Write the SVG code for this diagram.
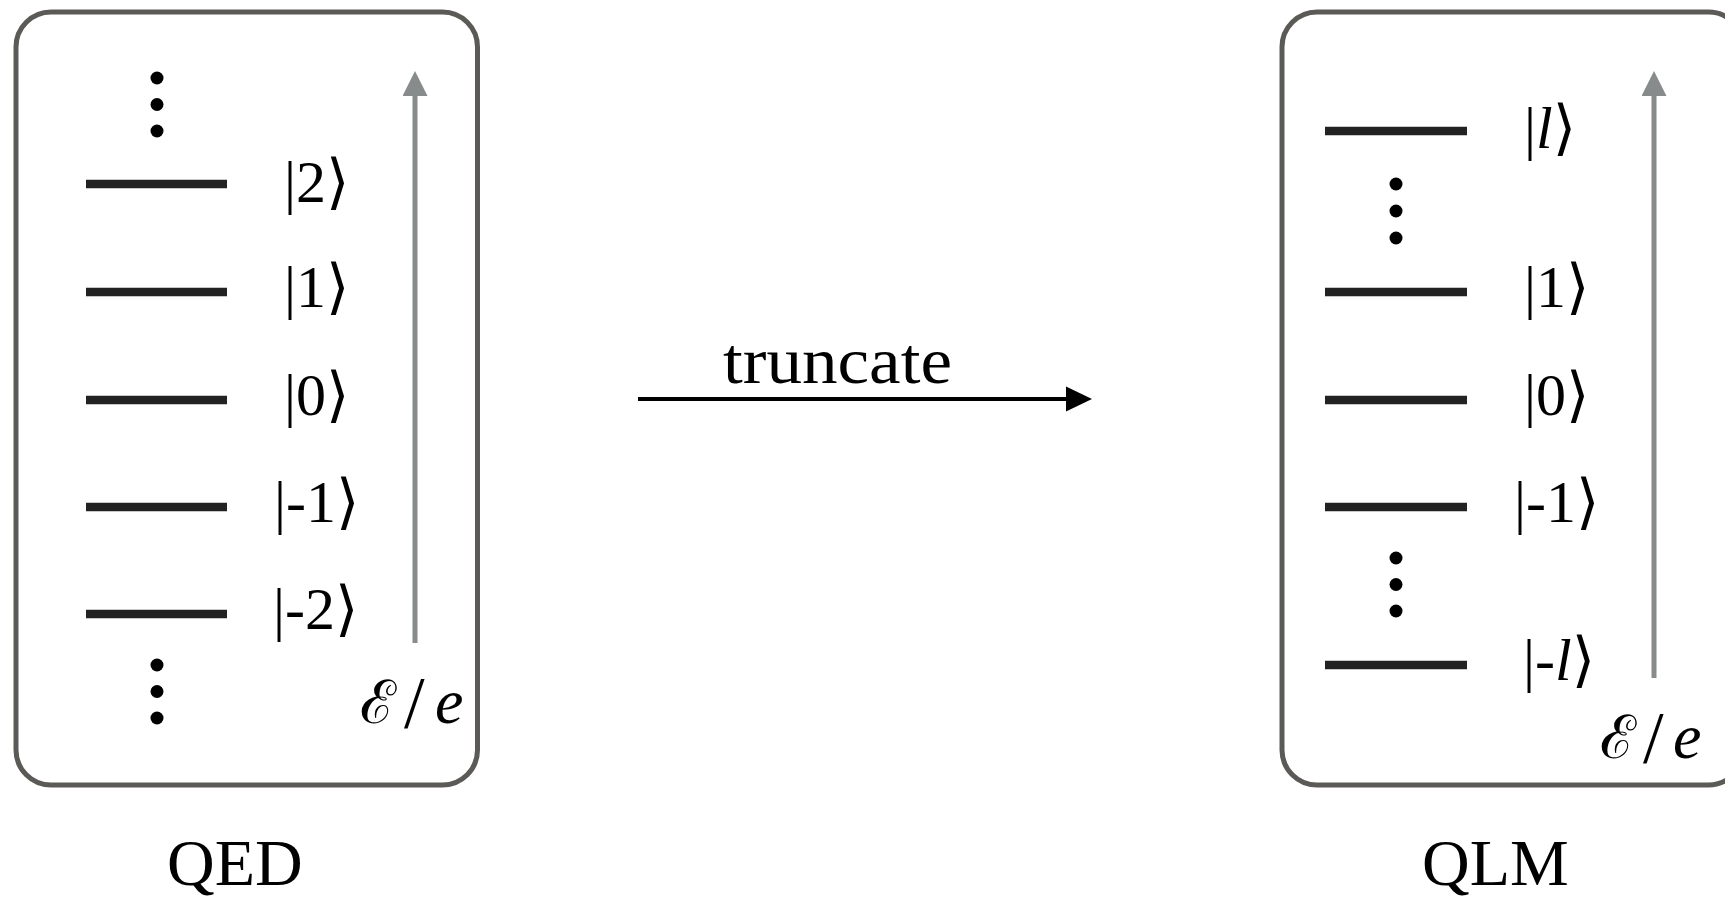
<svg xmlns="http://www.w3.org/2000/svg" width="1725" height="897" viewBox="0 0 1725 897">
  <style>
    .box { fill: none; stroke: #5b5a56; stroke-width: 5; }
    .level { stroke: #222222; stroke-width: 8.5; }
    .dot { fill: #000000; }
    .axis { stroke: #878b8b; stroke-width: 5; fill: none; }
    .ket { font-family: "Liberation Serif", "DejaVu Serif", serif; font-size: 60px; fill: #000000; }
    .br { font-family: "DejaVu Serif", "DejaVu Sans", serif; font-weight: 200; }
    .axlabel { font-family: "Liberation Serif", "DejaVu Serif", serif; font-size: 64px; font-style: italic; fill: #000000; }
    .script { font-family: "DejaVu Serif", serif; font-size: 60px; font-style: normal; }
    .slash { font-size: 74px; font-style: normal; }
    .caption { font-family: "Liberation Serif", serif; font-size: 66px; fill: #000000; }
  </style>
  <defs>
    <marker id="grayHead" markerWidth="5" markerHeight="5" refX="0" refY="2.5" orient="auto" markerUnits="strokeWidth">
      <path d="M0,0 L5,2.5 L0,5 Z" fill="#878b8b"/>
    </marker>
    <marker id="blackHead" markerWidth="6.5" markerHeight="6.3" refX="0" refY="3.15" orient="auto" markerUnits="strokeWidth">
      <path d="M0,0 L6.5,3.15 L0,6.3 Z" fill="#000000"/>
    </marker>
  </defs>

  <!-- QED: unbounded ladder of electric-field states -->
  <g id="qed">
    <rect class="box" x="16" y="12" width="461.5" height="773" rx="35"/>
    <circle class="dot" cx="157" cy="78" r="6.5"/>
    <circle class="dot" cx="157" cy="104.5" r="6.5"/>
    <circle class="dot" cx="157" cy="131" r="6.5"/>
    <line class="level" x1="86" y1="184" x2="227" y2="184"/>
    <line class="level" x1="86" y1="292" x2="227" y2="292"/>
    <line class="level" x1="86" y1="400" x2="227" y2="400"/>
    <line class="level" x1="86" y1="507" x2="227" y2="507"/>
    <line class="level" x1="86" y1="614" x2="227" y2="614"/>
    <circle class="dot" cx="157" cy="665" r="6.5"/>
    <circle class="dot" cx="157" cy="691.5" r="6.5"/>
    <circle class="dot" cx="157" cy="718" r="6.5"/>
    <text class="ket" x="284" y="202">|2<tspan class="br">⟩</tspan></text>
    <text class="ket" x="284" y="307">|1<tspan class="br">⟩</tspan></text>
    <text class="ket" x="284" y="415">|0<tspan class="br">⟩</tspan></text>
    <text class="ket" x="274" y="522">|-1<tspan class="br">⟩</tspan></text>
    <text class="ket" x="273" y="629">|-2<tspan class="br">⟩</tspan></text>
    <line class="axis" x1="415" y1="643" x2="415" y2="96" marker-end="url(#grayHead)"/>
    <text class="axlabel" y="723"><tspan class="script" x="360">ℰ</tspan><tspan class="slash" x="404" y="728">/</tspan><tspan x="435" y="723">e</tspan></text>
    <text class="caption" x="167" y="885">QED</text>
  </g>

  <!-- QLM: truncated ladder from |-l> to |l> -->
  <g id="qlm">
    <rect class="box" x="1282" y="12" width="461.5" height="773" rx="35"/>
    <line class="level" x1="1325" y1="131" x2="1467" y2="131"/>
    <circle class="dot" cx="1396" cy="184" r="6.5"/>
    <circle class="dot" cx="1396" cy="211" r="6.5"/>
    <circle class="dot" cx="1396" cy="238" r="6.5"/>
    <line class="level" x1="1325" y1="292" x2="1467" y2="292"/>
    <line class="level" x1="1325" y1="400" x2="1467" y2="400"/>
    <line class="level" x1="1325" y1="507" x2="1467" y2="507"/>
    <circle class="dot" cx="1396" cy="558" r="6.5"/>
    <circle class="dot" cx="1396" cy="584.5" r="6.5"/>
    <circle class="dot" cx="1396" cy="611" r="6.5"/>
    <line class="level" x1="1325" y1="665" x2="1467" y2="665"/>
    <text class="ket" x="1524" y="148">|<tspan font-style="italic">l</tspan><tspan class="br">⟩</tspan></text>
    <text class="ket" x="1524" y="307">|1<tspan class="br">⟩</tspan></text>
    <text class="ket" x="1524" y="415">|0<tspan class="br">⟩</tspan></text>
    <text class="ket" x="1514" y="522">|-1<tspan class="br">⟩</tspan></text>
    <text class="ket" x="1523" y="680">|-<tspan font-style="italic">l</tspan><tspan class="br">⟩</tspan></text>
    <line class="axis" x1="1654" y1="678" x2="1654" y2="96" marker-end="url(#grayHead)"/>
    <text class="axlabel" y="758"><tspan class="script" x="1600">ℰ</tspan><tspan class="slash" x="1643" y="763">/</tspan><tspan x="1673" y="758">e</tspan></text>
    <text class="caption" x="1422" y="885">QLM</text>
  </g>

  <!-- connector between the two models -->
  <g id="connectors">
    <line x1="638" y1="399" x2="1066" y2="399" stroke="#000000" stroke-width="4" marker-end="url(#blackHead)"/>
    <text class="caption" x="723" y="383" textLength="229" lengthAdjust="spacingAndGlyphs">truncate</text>
  </g>
</svg>
